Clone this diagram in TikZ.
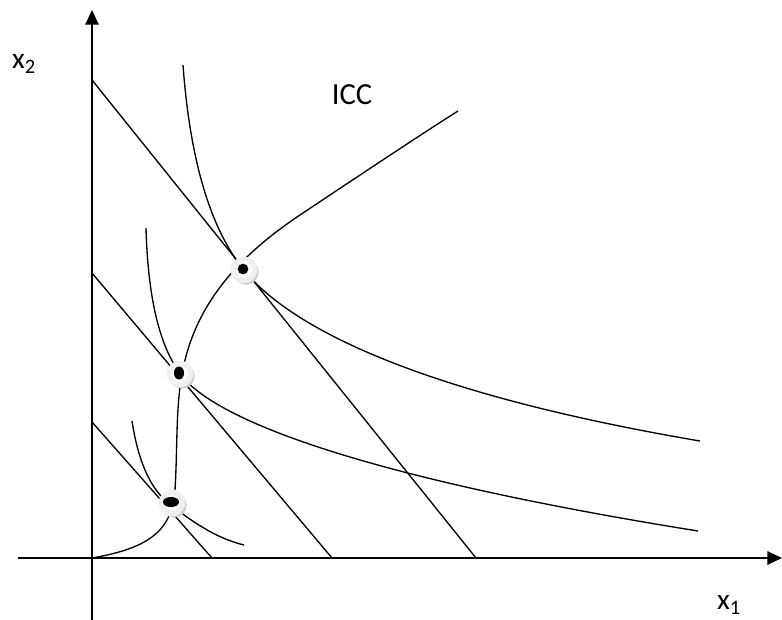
\documentclass[tikz,border=0pt]{standalone}
\usepackage{fontspec}
\setmainfont{Carlito}
\usetikzlibrary{arrows.meta}

\begin{document}
\begin{tikzpicture}[
    x=0.75pt,y=-0.75pt,
    axis/.style={-{Triangle[length=11pt,width=10pt]},draw=black,line width=1.5pt},
    curve/.style={draw=black,line width=1pt},
    budget/.style={draw=black,line width=1pt},
    lbl/.style={font=\fontsize{22}{24}\selectfont,inner sep=0pt},
    halo/.style={fill=gray!12},
    shade/.style={fill=gray!40}
  ]
    \useasboundingbox (0,0) rectangle (782,619);
    % equilibrium points
    \coordinate (e1) at (171,502);
    \coordinate (e2) at (179,373);
    \coordinate (e3) at (243,269);
    % axes
    \coordinate (o) at (92,558);
    \draw[axis] (92,637) -- (92,10);
    \draw[axis] (18,558) -- (782,558);
    % budget lines
    \draw[budget] (92,80) -- (476,558);
    \draw[budget] (92,273) -- (332,558);
    \draw[budget] (92,422) -- (212,558);
    % indifference curves
    \draw[curve] (183,65) .. controls (190,160) and (210,225) .. (240,265)
                 .. controls (280,320) and (400,390) .. (700,441);
    \draw[curve] (146,228) .. controls (148,300) and (160,345) .. (179,372)
                 .. controls (205,412) and (330,472) .. (698,531);
    \draw[curve] (132,421) .. controls (138,460) and (150,490) .. (171,505)
                 .. controls (190,520) and (215,538) .. (244,545);
    % income consumption curve
    \draw[curve] (o) .. controls (150,548) and (172,530) .. (175,490)
                 .. controls (178,440) and (175,400) .. (185,360)
                 .. controls (200,300) and (240,255) .. (300,215)
                 .. controls (360,175) and (420,135) .. (458,111);
    % markers
    \foreach \p in {e1,e2,e3} {
      \fill[shade] ([shift={(3,3)}]\p) circle[radius=9.5pt];
      \fill[halo] ([shift={(1,1)}]\p) circle[radius=10pt];
      \fill[white] ([shift={(1,1)}]\p) circle[radius=6pt];
    }
    \fill (e1) ellipse[x radius=6pt,y radius=3.8pt];
    \fill (e2) ellipse[x radius=3.8pt,y radius=4.9pt];
    \fill (e3) circle[radius=4pt];
    % labels
    \node[lbl] (xtwo) at (24,64) {x\textsubscript{2}};
    \node[lbl] (xone) at (729,605) {x\textsubscript{1}};
    \node[lbl,font=\fontsize{23}{25}\selectfont] (icc) at (352,95) {ICC};
\end{tikzpicture}
\end{document}
